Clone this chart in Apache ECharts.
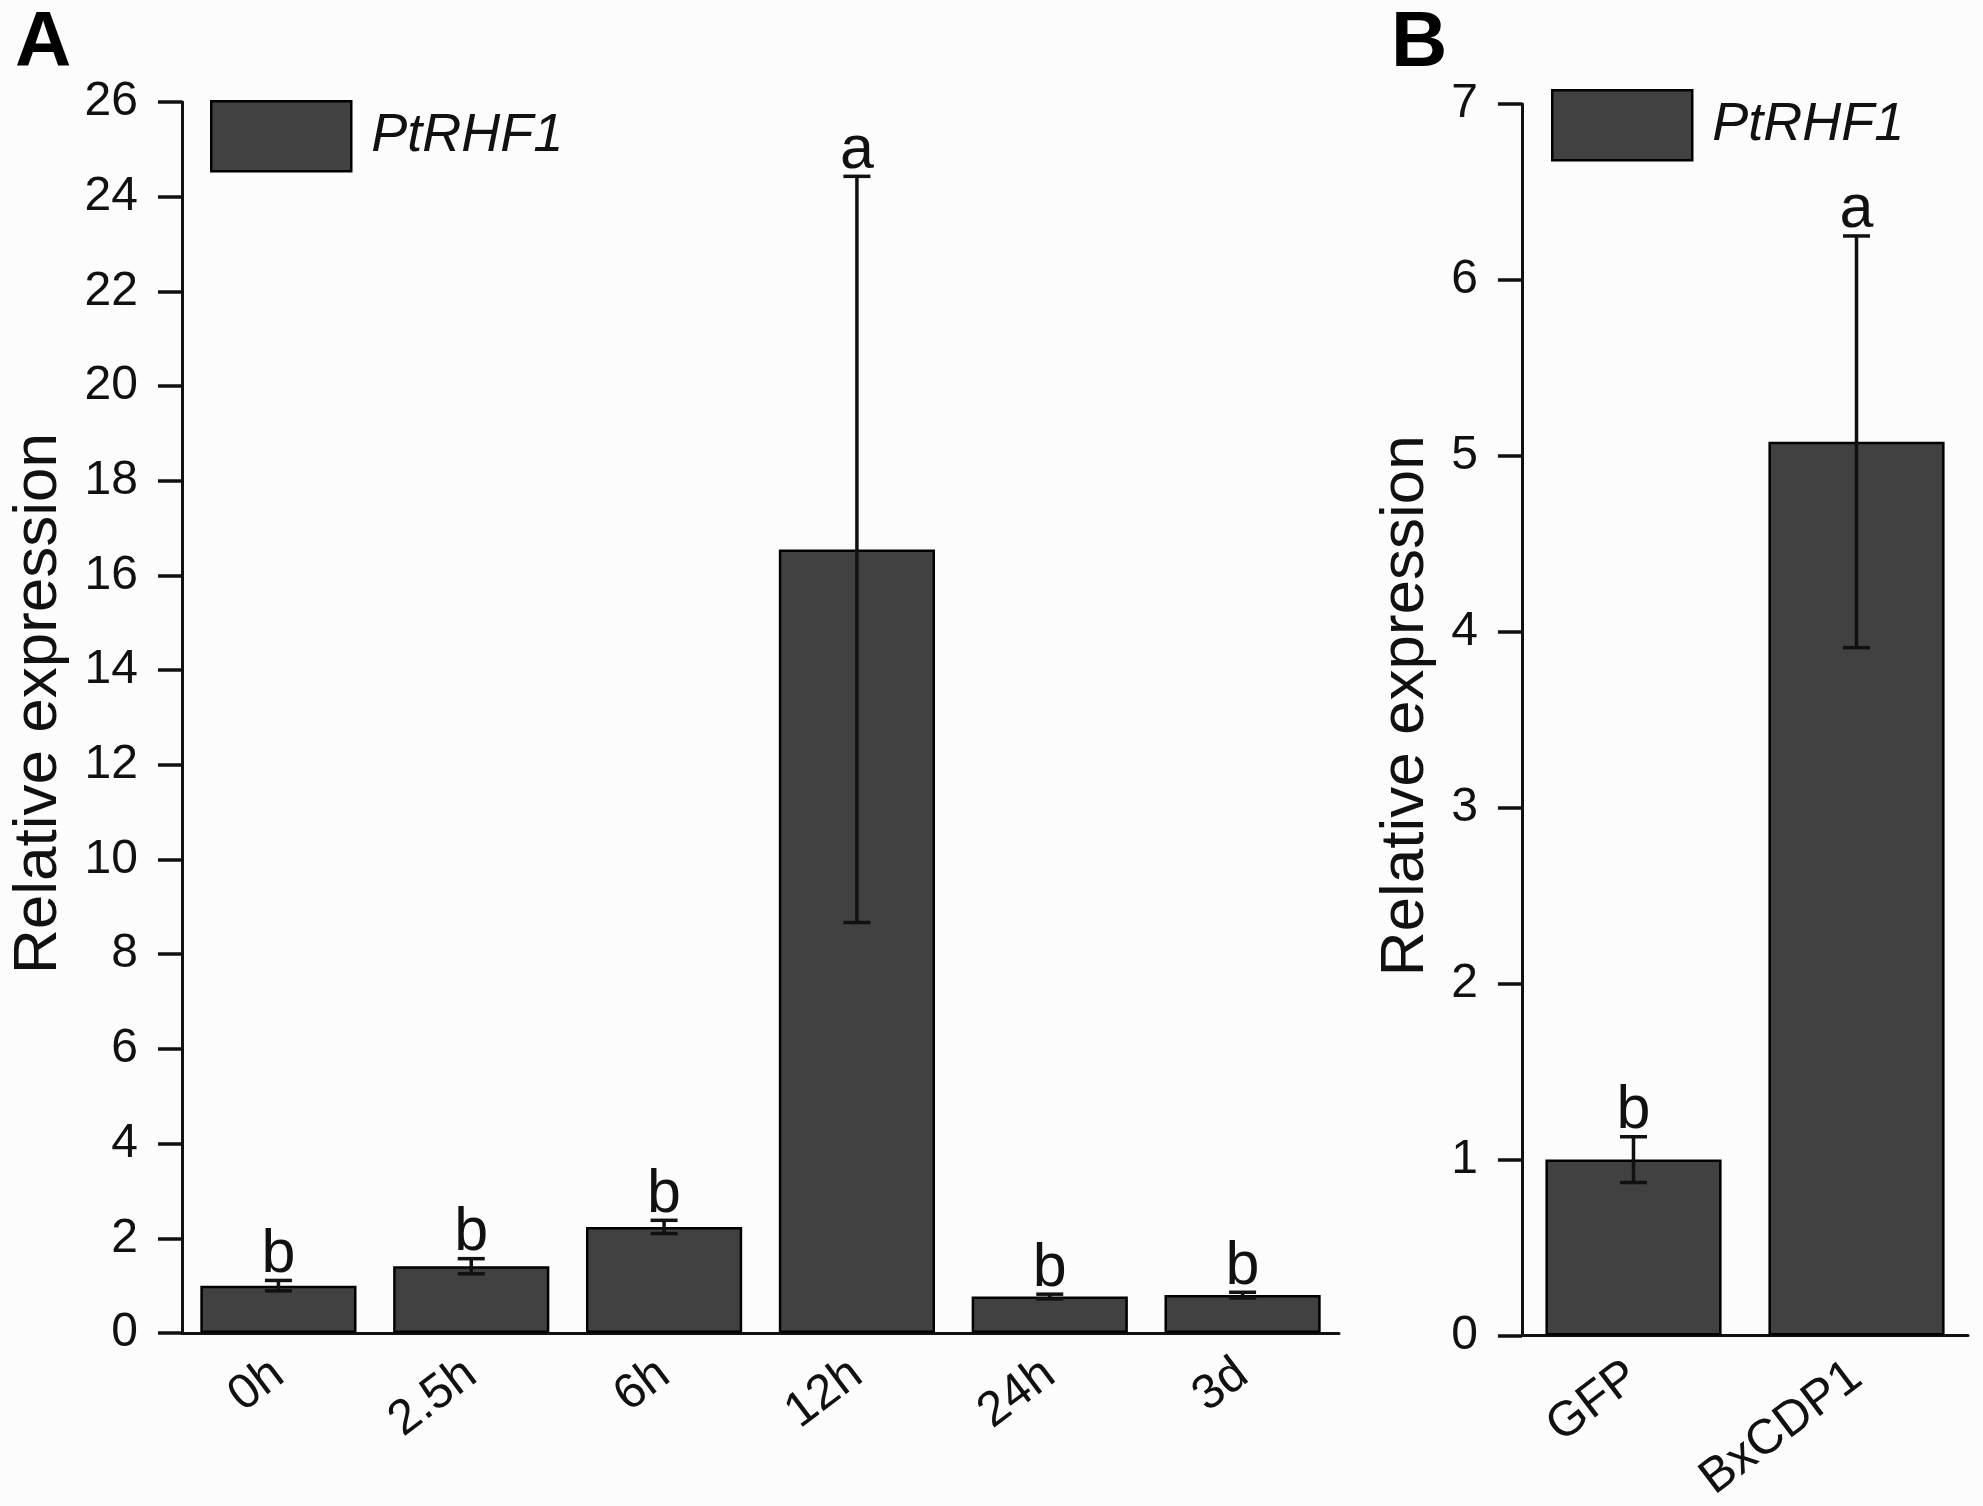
<!DOCTYPE html>
<html>
<head>
<meta charset="utf-8">
<script src="https://cdn.jsdelivr.net/npm/echarts@6/dist/echarts.min.js"></script>
<style>
html,body{margin:0;padding:0;background:#fcfcfc}
#main{width:1983px;height:1506px}
</style>
</head>
<body>
<div id="main"></div>
<script>
// panel A: time course
var timeCats = ['0h', '2.5h', '6h', '12h', '24h', '3d'];
var timeMeans = [1.0, 1.41, 2.24, 16.55, 0.77, 0.80];
var timeErrs = [0.11, 0.16, 0.14, 7.88, 0.05, 0.06];
var timeLetters = ['b', 'b', 'b', 'a', 'b', 'b'];
// panel B: GFP vs BxCDP1
var treatCats = ['GFP', 'BxCDP1'];
var treatMeans = [1.0, 5.08];
var treatErrs = [0.13, 1.17];
var treatLetters = ['b', 'a'];
var geneName = 'PtRHF1';

var FONT = '"Liberation Sans", Arial, sans-serif';
var BAR = '#414141';
var INK = '#111';

function errData(means, errs) {
  var out = [];
  for (var i = 0; i < means.length; i++) {
    out.push([i, means[i], errs[i]]);
  }
  return out;
}

// error bar + significance letter, drawn through the axis scales
function errRender(letters) {
  return function (params, api) {
    var i = api.value(0), m = api.value(1), e = api.value(2);
    var top = api.coord([i, m + e]);
    var bot = api.coord([i, m - e]);
    var half = 13.5;
    var ls = {stroke: INK, lineWidth: 3.5};
    return {
      type: 'group',
      children: [
        {type: 'line', shape: {x1: top[0], y1: top[1], x2: bot[0], y2: bot[1]}, style: ls},
        {type: 'line', shape: {x1: top[0] - half, y1: top[1], x2: top[0] + half, y2: top[1]}, style: ls},
        {type: 'line', shape: {x1: bot[0] - half, y1: bot[1], x2: bot[0] + half, y2: bot[1]}, style: ls},
        {type: 'text', style: {text: letters[params.dataIndex], x: top[0], y: top[1] + 5,
          align: 'center', verticalAlign: 'bottom', fontSize: 61, fontFamily: FONT, fill: INK}}
      ]
    };
  };
}

function yAxis(gi, max, interval, gap) {
  return {
    type: 'value', gridIndex: gi, min: 0, max: max, interval: interval,
    name: 'Relative expression', nameLocation: 'middle', nameRotate: 90, nameGap: gap,
    nameTextStyle: {fontSize: 62, fontFamily: FONT, color: INK, padding: [0, 0, 0, 28]},
    axisLine: {show: true, lineStyle: {color: INK, width: 3}},
    axisTick: {show: true, length: 24, lineStyle: {color: INK, width: 3.5}},
    axisLabel: {fontSize: 48, fontFamily: FONT, color: INK, margin: 44},
    splitLine: {show: false}
  };
}

function xAxis(gi, cats) {
  return {
    type: 'category', gridIndex: gi, data: cats,
    axisLine: {lineStyle: {color: INK, width: 3}},
    axisTick: {alignWithLabel: true, length: 26, lineStyle: {color: INK, width: 3.5}},
    axisLabel: {fontSize: 49, fontFamily: FONT, color: INK, rotate: 37, margin: 36, interval: 0}
  };
}

function legend(left, top) {
  return {
    data: [geneName], left: left, top: top, icon: 'rect', itemWidth: 140, itemHeight: 70,
    itemStyle: {borderColor: '#000', borderWidth: 2.5},
    textStyle: {fontSize: 54, fontStyle: 'italic', fontFamily: FONT, color: INK, padding: [0, 0, 0, 15]}
  };
}

var chart = echarts.init(document.getElementById('main'));
var option = {
  backgroundColor: '#fcfcfc',
  animation: false,
  title: [
    {text: 'A', left: 10, top: 0, textStyle: {fontSize: 78, fontWeight: 'bold', fontFamily: FONT, color: '#000'}},
    {text: 'B', left: 1386, top: 0, textStyle: {fontSize: 78, fontWeight: 'bold', fontFamily: FONT, color: '#000'}}
  ],
  grid: [
    {left: 172, top: 102, width: 1167, bottom: 173},
    {left: 1522, top: 104, width: 446, bottom: 169}
  ],
  legend: [legend(205, 95), legend(1546, 84)],
  xAxis: [xAxis(0, timeCats), xAxis(1, treatCats)],
  yAxis: [yAxis(0, 26, 2, 112), yAxis(1, 7, 1, 85)],
  series: [
    {name: geneName, type: 'bar', xAxisIndex: 0, yAxisIndex: 0, data: timeMeans, barWidth: '81%',
      itemStyle: {color: BAR, borderColor: '#000', borderWidth: 2.5}},
    {type: 'custom', xAxisIndex: 0, yAxisIndex: 0, renderItem: errRender(timeLetters),
      data: errData(timeMeans, timeErrs), z: 5},
    {name: geneName, type: 'bar', xAxisIndex: 1, yAxisIndex: 1, data: treatMeans, barWidth: '79%',
      itemStyle: {color: BAR, borderColor: '#000', borderWidth: 2.5}},
    {type: 'custom', xAxisIndex: 1, yAxisIndex: 1, renderItem: errRender(treatLetters),
      data: errData(treatMeans, treatErrs), z: 5}
  ]
};
chart.setOption(option);
</script>
</body>
</html>
